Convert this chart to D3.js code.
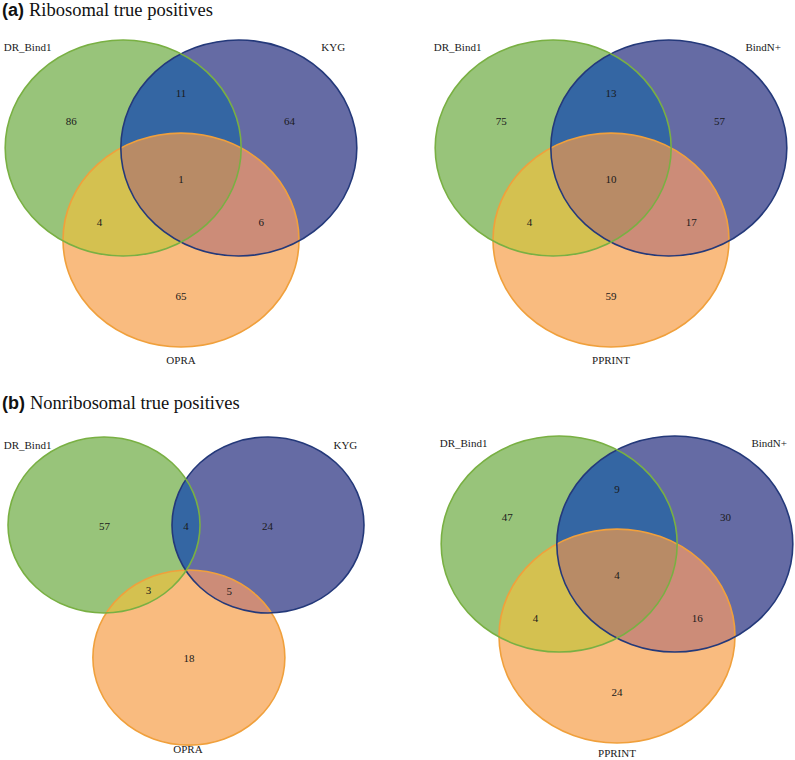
<!DOCTYPE html>
<html>
<head>
<meta charset="utf-8">
<script src="https://cdn.jsdelivr.net/npm/d3@7"></script>
<style>
  html, body { margin: 0; padding: 0; background: #ffffff; }
  svg { display: block; }
</style>
</head>
<body>
<svg id="chart" width="795" height="760"></svg>
<script>
// ---------------- DATA ----------------
const sectionTitles = ["Ribosomal true positives", "Nonribosomal true positives"];
const sectionTags = ["(a)", "(b)"];
const regionKeys = ["A", "B", "C", "AB", "AC", "BC", "ABC"];

const setsA1 = ["DR_Bind1", "KYG", "OPRA"];
const countsA1 = [86, 64, 65, 11, 4, 6, 1];

const setsA2 = ["DR_Bind1", "BindN+", "PPRINT"];
const countsA2 = [75, 57, 59, 13, 4, 17, 10];

const setsB1 = ["DR_Bind1", "KYG", "OPRA"];
const countsB1 = [57, 24, 18, 4, 3, 5, null];

const setsB2 = ["DR_Bind1", "BindN+", "PPRINT"];
const countsB2 = [47, 30, 24, 9, 4, 16, 4];

// ---------------- LAYOUT (unit space, scaled by each panel's scales) ----------------
const layouts = {
  standard: {
    circles: [[-0.49, 0, 1, 1], [0.49, 0, 1, 1], [0, 0.852, 1, 0.99]],
    regionPos: { A: [-0.93, -0.25], B: [0.92, -0.25], C: [0, 1.37], AB: [0, -0.51], AC: [-0.69, 0.69], BC: [0.68, 0.69], ABC: [0, 0.29] },
    setPos: [[-1.30, -0.93], [1.29, -0.93], [0, 1.96]]
  },
  spread: {
    circles: [[-0.854, 0, 1, 1], [0.854, 0, 1, 1], [0.03, 1.506, 1, 0.995]],
    regionPos: { A: [-0.85, 0.01], B: [0.85, 0.01], C: [0.03, 1.51], AB: [0, 0.01], AC: [-0.39, 0.74], BC: [0.45, 0.75], ABC: [0, 0] },
    setPos: [[-1.65, -0.91], [1.66, -0.91], [0.02, 2.55]]
  }
};

const panels = [
  { id: "a1", sets: setsA1, counts: countsA1, layout: "standard", ox: 181, oy: 148, rx: 118, ry: 108, bottomShift: 0 },
  { id: "a2", sets: setsA2, counts: countsA2, layout: "standard", ox: 611, oy: 148, rx: 118, ry: 108, bottomShift: 0 },
  { id: "b1", sets: setsB1, counts: countsB1, layout: "spread",   ox: 186, oy: 525, rx: 96,  ry: 88,  bottomShift: 0 },
  { id: "b2", sets: setsB2, counts: countsB2, layout: "standard", ox: 617, oy: 544, rx: 118, ry: 108, bottomShift: -3 }
];

const titlePos = [{ x: 2, y: 16 }, { x: 2, y: 409 }];

// ---------------- STYLES ----------------
const fillSet = ["#98c47a", "#656ba4", "#f9bb7f"];
const strokeSet = ["#79b043", "#24397a", "#f0a03c"];
const fillAB = "#3466a3", fillAC = "#d4c150", fillBC = "#cc8c78", fillABC = "#b88b66";
const serif = "'Liberation Serif', 'Times New Roman', serif";
const sans = "'Liberation Sans', Arial, sans-serif";

// ---------------- DRAW ----------------
const svg = d3.select("#chart");
const defs = svg.append("defs");

// titles
sectionTitles.forEach((t, i) => {
  const txt = svg.append("text")
    .attr("x", titlePos[i].x).attr("y", titlePos[i].y)
    .attr("fill", "#111");
  txt.append("tspan").attr("font-family", sans).attr("font-weight", "bold")
    .attr("font-size", 18).text(sectionTags[i]);
  txt.append("tspan").attr("font-family", serif).attr("font-size", 18.5)
    .attr("dx", 5).text(t);
});

panels.forEach(p => {
  const L = layouts[p.layout];
  const x = d3.scaleLinear().domain([-1, 1]).range([p.ox - p.rx, p.ox + p.rx]);
  const y = d3.scaleLinear().domain([-1, 1]).range([p.oy - p.ry, p.oy + p.ry]);
  const sx = d3.scaleLinear().domain([0, 1]).range([0, p.rx]);
  const sy = d3.scaleLinear().domain([0, 1]).range([0, p.ry]);

  const ell = L.circles.map(c => ({ cx: x(c[0]), cy: y(c[1]), rx: sx(c[2]), ry: sy(c[3]) }));

  // clip paths
  ell.forEach((e, i) => {
    defs.append("clipPath").attr("id", `clip-${p.id}-${i}`)
      .append("ellipse").attr("cx", e.cx).attr("cy", e.cy).attr("rx", e.rx).attr("ry", e.ry);
  });

  const g = svg.append("g");
  const drawEll = (sel, e, fill) => sel.append("ellipse")
    .attr("cx", e.cx).attr("cy", e.cy).attr("rx", e.rx).attr("ry", e.ry).attr("fill", fill);

  // base fills
  ell.forEach((e, i) => drawEll(g, e, fillSet[i]));
  // pairwise overlaps
  drawEll(g.append("g").attr("clip-path", `url(#clip-${p.id}-0)`), ell[1], fillAB);
  drawEll(g.append("g").attr("clip-path", `url(#clip-${p.id}-0)`), ell[2], fillAC);
  drawEll(g.append("g").attr("clip-path", `url(#clip-${p.id}-1)`), ell[2], fillBC);
  // triple
  drawEll(g.append("g").attr("clip-path", `url(#clip-${p.id}-0)`)
    .append("g").attr("clip-path", `url(#clip-${p.id}-1)`), ell[2], fillABC);

  // outlines
  [2, 1, 0].forEach(i => {
    g.append("ellipse")
      .attr("cx", ell[i].cx).attr("cy", ell[i].cy).attr("rx", ell[i].rx).attr("ry", ell[i].ry)
      .attr("fill", "none").attr("stroke", strokeSet[i]).attr("stroke-width", 1.6);
  });

  // region counts
  regionKeys.forEach((k, i) => {
    const v = p.counts[i];
    if (v === null || v === undefined) return;
    const pos = L.regionPos[k];
    g.append("text")
      .attr("x", x(pos[0])).attr("y", y(pos[1]))
      .attr("dy", "0.35em")
      .attr("text-anchor", "middle")
      .attr("font-family", serif).attr("font-size", 11)
      .attr("fill", "#1a1a1a")
      .text(v);
  });

  // set labels
  p.sets.forEach((s, i) => {
    const pos = L.setPos[i];
    g.append("text")
      .attr("x", x(pos[0])).attr("y", y(pos[1]) + (i === 2 ? p.bottomShift : 0))
      .attr("dy", "0.35em")
      .attr("text-anchor", "middle")
      .attr("font-family", serif).attr("font-size", 11)
      .attr("fill", "#1a1a1a")
      .text(s);
  });
});
</script>
</body>
</html>
